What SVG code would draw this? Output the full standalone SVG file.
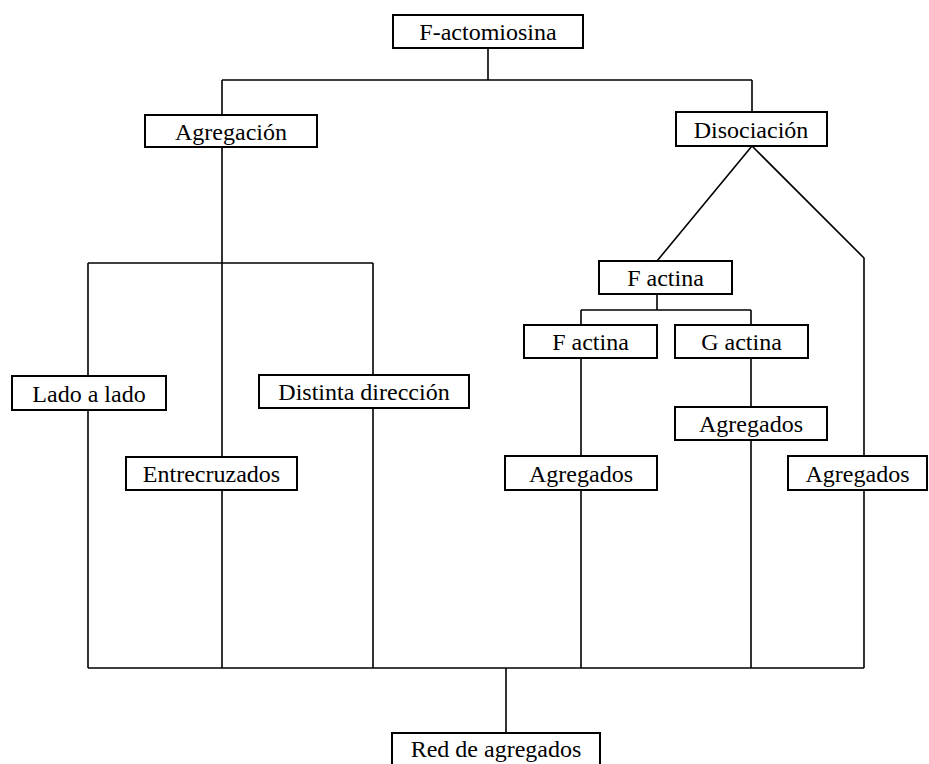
<svg xmlns="http://www.w3.org/2000/svg" width="929" height="764" viewBox="0 0 929 764">
<style>
  .box rect { fill: #fff; stroke: #000; stroke-width: 2; }
  .box text { font-family: "Liberation Serif", "Times New Roman", serif; font-size: 24px; fill: #000; text-anchor: middle; }
  #connectors path { fill: none; stroke: #000; stroke-width: 1.6; }
</style>
<rect x="0" y="0" width="929" height="764" fill="#fff"/>
<g id="connectors">
  <path d="M488,48 V80 M222,80 H752 M222,80 V115 M752,80 V112"/>
  <path d="M222,147 V457 M88,263 H373 M88,263 V376 M373,263 V375"/>
  <path d="M88,410 V668 M373,408 V668 M222,490 V668"/>
  <path d="M752,146 L657,261 M752,146 L864,258 V456"/>
  <path d="M657,294 V310 M581,310 H751 M581,310 V325 M751,310 V325"/>
  <path d="M581,358 V456 M581,490 V668 M751,358 V407 M751,440 V668 M864,490 V668"/>
  <path d="M88,668 H864 M506,668 V733"/>
</g>
<g id="n-factomiosina" class="box"><rect x="393" y="15" width="190" height="33"/><text x="488" y="40">F-actomiosina</text></g>
<g id="n-agregacion" class="box"><rect x="145" y="115" width="172" height="32"/><text x="231" y="140">Agregación</text></g>
<g id="n-disociacion" class="box"><rect x="676" y="112" width="151" height="34"/><text x="751" y="138">Disociación</text></g>
<g id="n-lado" class="box"><rect x="12" y="376" width="154" height="34"/><text x="89" y="402">Lado a lado</text></g>
<g id="n-distinta" class="box"><rect x="259" y="375" width="210" height="33"/><text x="364" y="400">Distinta dirección</text></g>
<g id="n-entrecruzados" class="box"><rect x="126" y="457" width="171" height="33"/><text x="211.5" y="482">Entrecruzados</text></g>
<g id="n-factina1" class="box"><rect x="599" y="261" width="133" height="33"/><text x="665.5" y="286">F actina</text></g>
<g id="n-factina2" class="box"><rect x="524" y="325" width="133" height="33"/><text x="590.5" y="350">F actina</text></g>
<g id="n-gactina" class="box"><rect x="675" y="325" width="133" height="33"/><text x="741.5" y="350">G actina</text></g>
<g id="n-agregados-l" class="box"><rect x="505" y="456" width="152" height="34"/><text x="581" y="482">Agregados</text></g>
<g id="n-agregados-m" class="box"><rect x="675" y="407" width="152" height="33"/><text x="751" y="432">Agregados</text></g>
<g id="n-agregados-r" class="box"><rect x="788" y="456" width="139" height="34"/><text x="857.5" y="482">Agregados</text></g>
<g id="n-red" class="box"><rect x="392" y="733" width="208" height="40"/><text x="496" y="757">Red de agregados</text></g>
</svg>
